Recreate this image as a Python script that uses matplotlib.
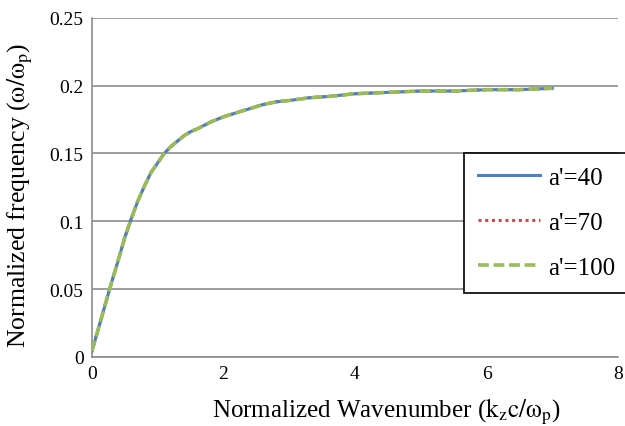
import matplotlib
matplotlib.use("Agg")
import matplotlib.pyplot as plt

# (all three cases overlap)
kz = [0, 0.1, 0.2, 0.3, 0.4, 0.5, 0.6, 0.7, 0.8, 0.9, 1.0, 1.1, 1.2, 1.3,
      1.4, 1.5, 1.6, 1.8, 2.0, 2.2, 2.4, 2.6, 2.8, 3.0, 3.3, 3.6, 4.0, 4.5,
      5.0, 5.5, 6.0, 6.5, 7.0]
w_40 = [0.004, 0.021, 0.038, 0.055, 0.071, 0.088, 0.102, 0.115, 0.126, 0.136,
        0.143, 0.150, 0.155, 0.159, 0.163, 0.166, 0.168, 0.173, 0.177, 0.180,
        0.183, 0.186, 0.188, 0.189, 0.191, 0.192, 0.194, 0.195, 0.196, 0.196,
        0.197, 0.197, 0.198]
w_70 = list(w_40)
w_100 = list(w_40)
labels = ["a'=40", "a'=70", "a'=100"]
xticks = [0, 2, 4, 6, 8]
yticks = [0, 0.05, 0.1, 0.15, 0.2, 0.25]

plt.rcParams['font.family'] = ['Liberation Serif', 'DejaVu Serif']
plt.rcParams['mathtext.fontset'] = 'stix'

fig = plt.figure(figsize=(6.25, 4.27), dpi=100)
ax = fig.add_axes([0.147, 0.162, 0.842, 0.794])

ax.plot(kz, w_70, color='#C0504D', lw=2.2, ls=(0, (1, 1.2)), label=labels[1], zorder=3)
ax.plot(kz, w_40, color='#4F81BD', lw=2.2, label=labels[0], zorder=4)
ax.plot(kz, w_100, color='#9BBB59', lw=2.6, ls=(0, (3, 1.3)), label=labels[2], zorder=5)

ax.set_xlim(0, 8)
ax.set_ylim(0, 0.25)
ax.set_xticks(xticks)
ax.set_yticks(yticks)
ax.set_xticklabels([str(t) for t in xticks])
ax.set_yticklabels(['0', '0.05', '0.1', '0.15', '0.2', '0.25'])
ax.tick_params(length=0, labelsize=14, pad=6)
ax.grid(axis='y', color='#8c8c8c', lw=1.2)
ax.set_axisbelow(True)
for s in ['top', 'right']:
    ax.spines[s].set_visible(False)
for s in ['left', 'bottom']:
    ax.spines[s].set_color('#8c8c8c')
    ax.spines[s].set_linewidth(1.2)

ax.set_xlabel(r'Normalized Wavenumber ($\mathrm{k_z c/\omega_p}$)', fontsize=18)
ax.xaxis.set_label_coords(0.56, -0.115)
ax.set_ylabel(r'Normalized frequency ($\mathrm{\omega/\omega_p}$)', fontsize=18.5)
ax.yaxis.set_label_coords(-0.108, 0.48)

handles, labs = ax.get_legend_handles_labels()
order = [1, 0, 2]
leg = ax.legend([handles[i] for i in order], [labs[i] for i in order],
                loc='upper left', bbox_to_anchor=(0.707, 0.602), fontsize=18,
                frameon=True, fancybox=False, edgecolor='black',
                handlelength=2.5, labelspacing=0.9, borderpad=0.55,
                handletextpad=0.3, borderaxespad=0)
leg.get_frame().set_linewidth(1.2)
leg.get_frame().set_alpha(1)

fig.savefig('out.png', dpi=100)
